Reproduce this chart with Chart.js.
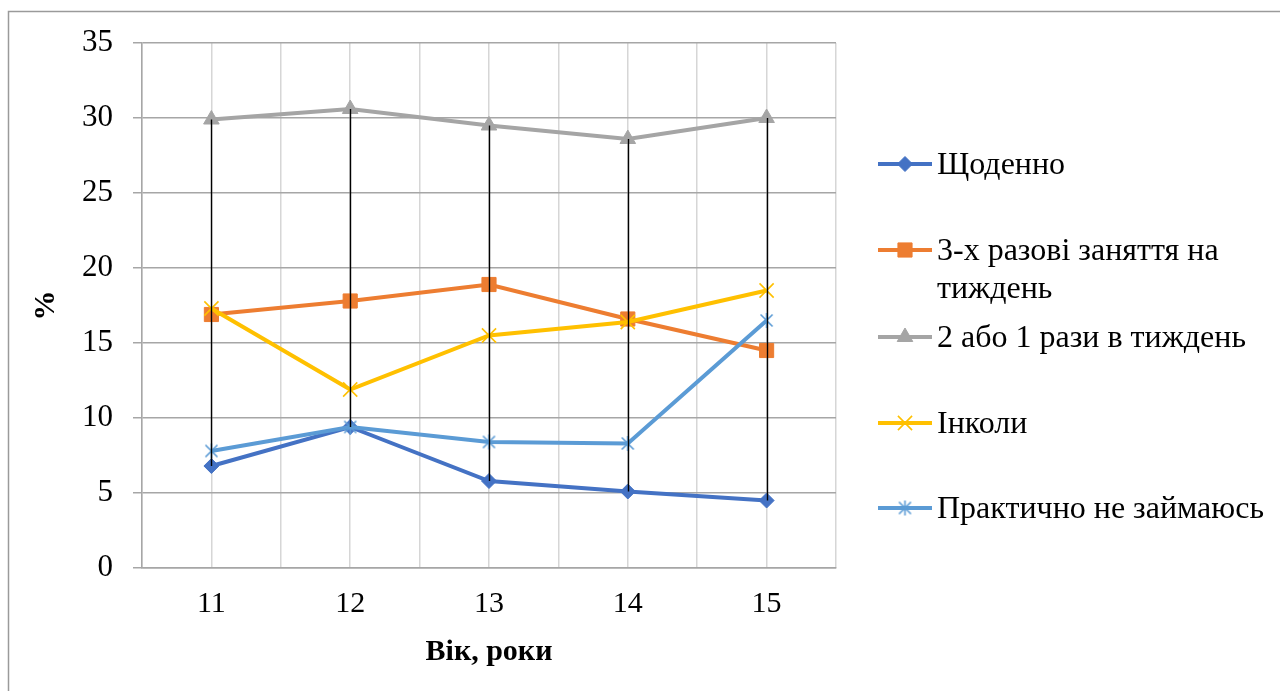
<!DOCTYPE html>
<html lang="uk">
<head>
<meta charset="utf-8">
<title>Частота занять за віком</title>
<script src="https://cdn.jsdelivr.net/npm/chart.js@4.4.1/dist/chart.umd.min.js"></script>
<style>
  html, body { margin: 0; padding: 0; background: #ffffff; }
  #wrap { position: relative; width: 1280px; height: 691px; overflow: hidden; }
  canvas { display: block; }
</style>
</head>
<body>
<div id="wrap"><canvas id="chart" width="1280" height="691"></canvas></div>
<script>
// Age groups (years) shown along the horizontal axis
const ages = [11, 12, 13, 14, 15];
const ageLabels = ['11', '12', '13', '14', '15'];

// Share of pupils (%) per answer, by age
const daily      = [6.8, 9.4, 5.8, 5.1, 4.5];
const threeTimes = [16.9, 17.8, 18.9, 16.6, 14.5];
const onceTwice  = [29.9, 30.6, 29.5, 28.6, 30.0];
const sometimes  = [17.3, 11.9, 15.5, 16.4, 18.5];
const hardlyEver = [7.8, 9.4, 8.4, 8.3, 16.5];

const seriesNames = [
  'Щоденно',
  ['3-х разові заняття на', 'тиждень'],
  '2 або 1 рази в тиждень',
  'Інколи',
  'Практично не займаюсь'
];

const yTicks = [0, 5, 10, 15, 20, 25, 30, 35];

const FONT = '"Liberation Serif", "Times New Roman", serif';

// Asterisk marker: an X crossed by a vertical stroke
function asteriskMarker(color, size, lw) {
  const c = document.createElement('canvas');
  c.width = size; c.height = size;
  const g = c.getContext('2d');
  g.strokeStyle = color;
  g.lineWidth = lw;
  const m = size / 2, a = size / 2 - 1;
  g.beginPath();
  g.moveTo(m - a * 0.8, m - a * 0.8); g.lineTo(m + a * 0.8, m + a * 0.8);
  g.moveTo(m + a * 0.8, m - a * 0.8); g.lineTo(m - a * 0.8, m + a * 0.8);
  g.moveTo(m, m - a); g.lineTo(m, m + a);
  g.stroke();
  return c;
}

const styles = [
  { color: '#4472C4', point: 'rectRot',  radius: 7.5, bw: 1 },
  { color: '#ED7D31', point: 'rect',     radius: 10,  bw: 1 },
  { color: '#A5A5A5', point: 'triangle', radius: 9,   bw: 1 },
  { color: '#FFC000', point: 'crossRot', radius: 10,  bw: 1.6 },
  { color: '#5B9BD5', point: asteriskMarker('#5B9BD5', 17, 1.6), radius: 8, bw: 1.6 }
];

const seriesValues = [daily, threeTimes, onceTwice, sometimes, hardlyEver];

const datasets = seriesValues.map((vals, i) => ({
  label: Array.isArray(seriesNames[i]) ? seriesNames[i].join(' ') : seriesNames[i],
  data: vals.map((v, k) => ({ x: ages[k], y: v })),
  borderColor: styles[i].color,
  backgroundColor: styles[i].color,
  borderWidth: 4,
  pointStyle: styles[i].point,
  pointRadius: styles[i].radius,
  pointHoverRadius: styles[i].radius,
  pointBorderWidth: styles[i].bw,
  pointBackgroundColor: styles[i].color,
  pointBorderColor: styles[i].color,
  tension: 0,
  order: seriesValues.length - i
}));

// Outer frame of the chart object
const framePlugin = {
  id: 'frame',
  beforeDraw(chart) {
    const { ctx, width, height } = chart;
    ctx.save();
    ctx.strokeStyle = '#9a9a9a';
    ctx.lineWidth = 1.5;
    ctx.beginPath();
    ctx.moveTo(8.5, height);
    ctx.lineTo(8.5, 11.5);
    ctx.lineTo(width, 11.5);
    ctx.stroke();
    ctx.restore();
  }
};

// Vertical high-low lines joining the highest and lowest value of each age
const hiLoPlugin = {
  id: 'hiLo',
  afterDatasetsDraw(chart) {
    const { ctx, scales: { x, y } } = chart;
    ctx.save();
    ctx.strokeStyle = '#000000';
    ctx.lineWidth = 1.4;
    ages.forEach((age, k) => {
      const col = seriesValues.map(s => s[k]);
      const px = Math.round(x.getPixelForValue(age)) + 0.5;
      ctx.beginPath();
      ctx.moveTo(px, y.getPixelForValue(Math.max(...col)));
      ctx.lineTo(px, y.getPixelForValue(Math.min(...col)));
      ctx.stroke();
    });
    ctx.restore();
  }
};

// Legend on the right side: line sample with marker, then the series name
const legendRows = [[166], [252, 290], [339], [425], [510]];
const legendPlugin = {
  id: 'sideLegend',
  afterDraw(chart) {
    const { ctx, chartArea } = chart;
    const x0 = chartArea.right + 42, x1 = x0 + 54, tx = x1 + 5;
    ctx.save();
    ctx.font = '32px ' + FONT;
    ctx.fillStyle = '#000000';
    ctx.textBaseline = 'middle';
    ctx.textAlign = 'left';
    seriesNames.forEach((name, i) => {
      const lines = Array.isArray(name) ? name : [name];
      const ys = legendRows[i];
      const my = ys[0] - 2;
      const st = styles[i];
      ctx.strokeStyle = st.color;
      ctx.fillStyle = st.color;
      ctx.lineWidth = 4;
      ctx.beginPath();
      ctx.moveTo(x0, my);
      ctx.lineTo(x1, my);
      ctx.stroke();
      ctx.lineWidth = st.bw;
      Chart.helpers.drawPoint(ctx, {
        pointStyle: st.point, radius: st.radius, borderWidth: st.bw, rotation: 0
      }, (x0 + x1) / 2, my);
      ctx.fillStyle = '#000000';
      lines.forEach((ln, j) => ctx.fillText(ln, tx, ys[j]));
    });
    ctx.restore();
  }
};

new Chart(document.getElementById('chart'), {
  type: 'line',
  data: { datasets },
  options: {
    responsive: false,
    animation: false,
    devicePixelRatio: 1,
    layout: { padding: { top: 43, right: 444, bottom: 0, left: 0 } },
    plugins: { legend: { display: false }, tooltip: { enabled: false } },
    scales: {
      x: {
        type: 'linear',
        min: ages[0] - 0.5,
        max: ages[ages.length - 1] + 0.5,
        afterFit(scale) { scale.height = 123; },
        afterBuildTicks(scale) {
          const t = [];
          for (let v = scale.min; v <= scale.max + 1e-9; v += 0.5) t.push({ value: v });
          scale.ticks = t;
        },
        ticks: {
          autoSkip: false,
          maxRotation: 0,
          padding: 18,
          color: '#000000',
          font: { family: FONT, size: 30 },
          callback(v) {
            const k = ages.indexOf(v);
            return k >= 0 ? ageLabels[k] : '';
          }
        },
        grid: { color: '#d6d6d6', lineWidth: 1.5, drawTicks: false },
        border: { color: '#a6a6a6', width: 1.5 },
        title: {
          display: true,
          text: 'Вік, роки',
          color: '#000000',
          font: { family: FONT, size: 30, weight: 'bold' },
          padding: { top: 0, bottom: 21 }
        }
      },
      y: {
        min: 0,
        max: 35,
        afterFit(scale) { scale.width = 142; },
        afterBuildTicks(scale) { scale.ticks = yTicks.map(v => ({ value: v })); },
        ticks: {
          padding: 20,
          color: '#000000',
          font: { family: FONT, size: 31 }
        },
        grid: { color: '#a6a6a6', lineWidth: 1.5, tickLength: 9 },
        border: { color: '#a6a6a6', width: 1.5 },
        title: {
          display: true,
          text: '%',
          color: '#000000',
          font: { family: FONT, size: 30, weight: 'bold' },
          padding: { top: 28, bottom: 0 }
        }
      }
    }
  },
  plugins: [framePlugin, hiLoPlugin, legendPlugin]
});
</script>
</body>
</html>
